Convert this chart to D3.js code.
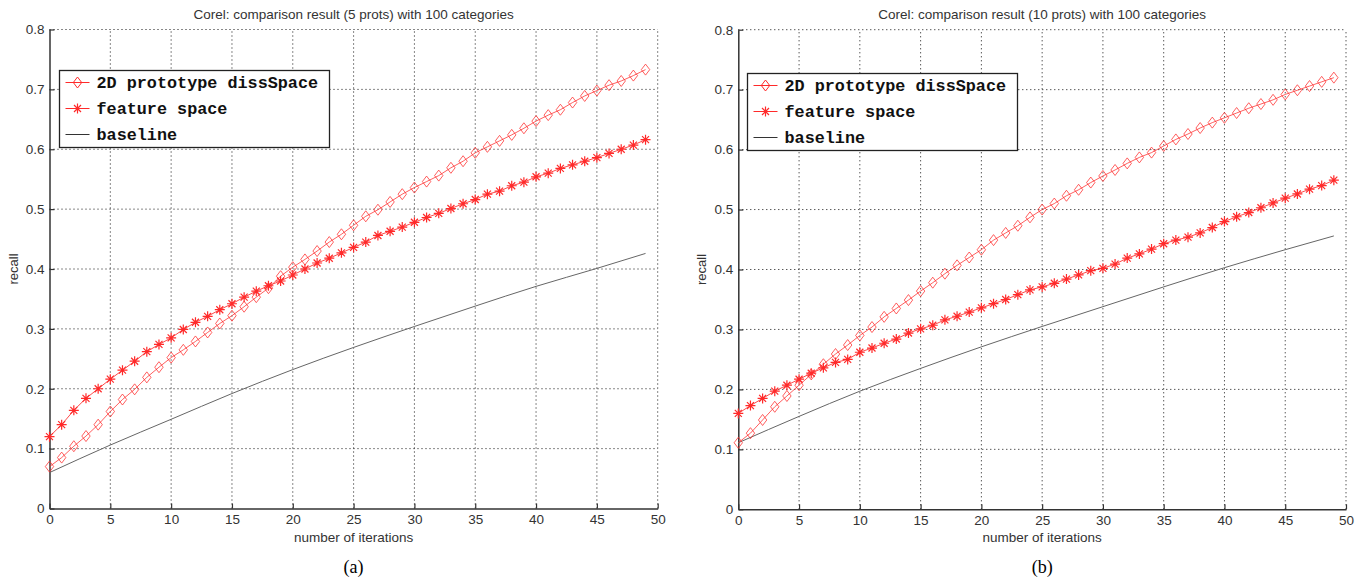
<!DOCTYPE html>
<html>
<head>
<meta charset="utf-8">
<script src="https://cdn.jsdelivr.net/npm/d3@7"></script>
<style>
body { margin: 0; background: #fff; }
svg { display: block; }
</style>
</head>
<body>
<script>
// iterations on the x axis
var iterations = [0,1,2,3,4,5,6,7,8,9,10,11,12,13,14,15,16,17,18,19,20,21,22,23,24,
	25,26,27,28,29,30,31,32,33,34,35,36,37,38,39,40,41,42,43,44,45,46,47,48,49];

// (a) 5 prototypes
var diss5 = [0.070,0.085,0.104,0.121,0.140,0.162,0.182,0.199,0.219,0.236,0.252,0.265,0.279,0.294,0.309,0.322,0.337,0.353,0.368,0.388,
	0.403,0.416,0.430,0.445,0.458,0.473,0.488,0.499,0.512,0.525,0.536,0.546,0.556,0.569,0.580,0.594,0.604,0.614,0.624,0.635,
	0.647,0.657,0.666,0.678,0.689,0.698,0.707,0.714,0.723,0.733];
var feat5 = [0.120,0.140,0.164,0.184,0.200,0.216,0.231,0.246,0.262,0.274,0.285,0.299,0.311,0.321,0.332,0.342,0.353,0.363,0.372,0.380,
	0.390,0.400,0.410,0.418,0.427,0.436,0.445,0.456,0.463,0.470,0.478,0.486,0.493,0.501,0.509,0.516,0.525,0.530,0.539,0.545,
	0.554,0.560,0.568,0.574,0.580,0.586,0.593,0.600,0.607,0.616];
var baseIters = [0,5,10,15,20,25,30,35,40,45,49];
var base5 = [0.060,0.106,0.149,0.192,0.232,0.269,0.304,0.338,0.371,0.401,0.426];

// (b) 10 prototypes
var diss10 = [0.111,0.127,0.149,0.171,0.189,0.207,0.225,0.242,0.259,0.274,0.290,0.304,0.321,0.335,0.349,0.364,0.378,0.393,0.407,0.420,
	0.433,0.449,0.461,0.473,0.487,0.500,0.510,0.523,0.533,0.545,0.556,0.566,0.577,0.587,0.595,0.606,0.617,0.626,0.636,0.645,
	0.653,0.661,0.669,0.676,0.683,0.692,0.699,0.706,0.713,0.720];
var feat10 = [0.160,0.173,0.185,0.197,0.207,0.217,0.227,0.236,0.245,0.250,0.262,0.269,0.277,0.284,0.294,0.301,0.307,0.316,0.322,0.329,
	0.336,0.343,0.350,0.358,0.366,0.371,0.377,0.384,0.391,0.398,0.402,0.409,0.419,0.426,0.434,0.443,0.449,0.454,0.461,0.470,
	0.480,0.488,0.495,0.503,0.511,0.519,0.526,0.534,0.540,0.549];
var base10 = [0.111,0.155,0.197,0.235,0.271,0.305,0.338,0.371,0.403,0.433,0.456];

// axis ticks and labels
var xTicks = [0,5,10,15,20,25,30,35,40,45,50];
var yTicks = [0,0.1,0.2,0.3,0.4,0.5,0.6,0.7,0.8];
var legendLabels = ["2D prototype dissSpace", "feature space", "baseline"];

var red = "#ff2a2a";
var sans = "Arial, 'Liberation Sans', sans-serif";

var svg = d3.select("body").append("svg")
	.attr("width", 1366)
	.attr("height", 582);

// marker shapes
var diamondPath = "M0,-5.5L4.2,0L0,5.5L-4.2,0Z";
var starPath = "M0,-5V5M-5,0H5M-3.5,-3.5L3.5,3.5M-3.5,3.5L3.5,-3.5";

drawPanel({left:49.5, right:657.7, top:29.5, bottom:508.5,
	title:"Corel: comparison result (5 prots) with 100 categories", tag:"(a)",
	diss:diss5, feat:feat5, base:base5, lx:59.5, ly:70.5});
drawPanel({left:738.3, right:1346, top:29.7, bottom:509.3,
	title:"Corel: comparison result (10 prots) with 100 categories", tag:"(b)",
	diss:diss10, feat:feat10, base:base10, lx:747.5, ly:73.5});

// Draws one panel of the figure
function drawPanel(p){
	var x = d3.scaleLinear().domain([0, 50]).range([p.left, p.right]);
	var y = d3.scaleLinear().domain([0, 0.8]).range([p.bottom, p.top]);
	var g = svg.append("g");
	var mid = (p.left + p.right) / 2;

	// dotted grid
	g.selectAll("line.gx")
		.data(xTicks.slice(1))
		.enter().append("line")
		.attr("x1", function(d) {return x(d);})
		.attr("x2", function(d) {return x(d);})
		.attr("y1", p.bottom)
		.attr("y2", p.top)
		.attr("stroke", "#111")
		.attr("stroke-width", 1)
		.attr("stroke-dasharray", "1,3");
	g.selectAll("line.gy")
		.data(yTicks.slice(1))
		.enter().append("line")
		.attr("y1", function(d) {return y(d);})
		.attr("y2", function(d) {return y(d);})
		.attr("x1", p.left)
		.attr("x2", p.right)
		.attr("stroke", "#111")
		.attr("stroke-width", 1)
		.attr("stroke-dasharray", "1,3");

	// axes
	var xAxis = g.append("g")
		.attr("transform", "translate(0," + p.bottom + ")")
		.call(d3.axisBottom(x).tickValues(xTicks).tickSize(-5).tickSizeOuter(0).tickPadding(6));
	var yAxis = g.append("g")
		.attr("transform", "translate(" + p.left + ",0)")
		.call(d3.axisLeft(y).tickValues(yTicks).tickSize(-5).tickSizeOuter(0).tickPadding(5)
			.tickFormat(function(d) {return d === 0 ? "0" : d3.format(".1f")(d);}));
	[xAxis, yAxis].forEach(function(a){
		a.select(".domain").attr("stroke", "#333").attr("stroke-width", 1.5);
		a.selectAll(".tick line").attr("stroke", "#333").attr("stroke-width", 1.2);
		a.selectAll("text")
			.attr("fill", "#333")
			.style("font-family", sans)
			.style("font-size", "13.5px");
	});

	// titles
	g.append("text")
		.attr("x", mid).attr("y", 18.5)
		.attr("text-anchor", "middle")
		.attr("fill", "#333")
		.style("font-family", sans)
		.style("font-size", "13.5px")
		.text(p.title);
	g.append("text")
		.attr("x", mid).attr("y", 541.5)
		.attr("text-anchor", "middle")
		.attr("fill", "#333")
		.style("font-family", sans)
		.style("font-size", "13.5px")
		.text("number of iterations");
	g.append("text")
		.attr("transform", "translate(" + (p.left - 32) + "," + ((p.top + p.bottom) / 2) + ") rotate(-90)")
		.attr("text-anchor", "middle")
		.attr("fill", "#333")
		.style("font-family", sans)
		.style("font-size", "13px")
		.text("recall");
	g.append("text")
		.attr("x", mid).attr("y", 573)
		.attr("text-anchor", "middle")
		.attr("fill", "#000")
		.style("font-family", "'Liberation Serif', 'Times New Roman', serif")
		.style("font-size", "18px")
		.text(p.tag);

	// series
	var line = d3.line()
		.x(function(d) {return x(d[0]);})
		.y(function(d) {return y(d[1]);});
	var baseLine = d3.line()
		.x(function(d) {return x(d[0]);})
		.y(function(d) {return y(d[1]);})
		.curve(d3.curveMonotoneX);

	var basePts = d3.zip(baseIters, p.base);
	var dissPts = d3.zip(iterations, p.diss);
	var featPts = d3.zip(iterations, p.feat);

	g.append("path")
		.attr("d", baseLine(basePts))
		.attr("fill", "none")
		.attr("stroke", "#666")
		.attr("stroke-width", 1);

	g.append("path")
		.attr("d", line(featPts))
		.attr("fill", "none")
		.attr("stroke", red)
		.attr("stroke-width", 1)
		.attr("stroke-opacity", 0.85);
	g.selectAll("path.star")
		.data(featPts)
		.enter().append("path")
		.attr("transform", function(d) {return "translate(" + x(d[0]) + "," + y(d[1]) + ")";})
		.attr("d", starPath)
		.attr("fill", "none")
		.attr("stroke", red)
		.attr("stroke-width", 1.2);

	g.append("path")
		.attr("d", line(dissPts))
		.attr("fill", "none")
		.attr("stroke", red)
		.attr("stroke-width", 1)
		.attr("stroke-opacity", 0.75);
	g.selectAll("path.diamond")
		.data(dissPts)
		.enter().append("path")
		.attr("transform", function(d) {return "translate(" + x(d[0]) + "," + y(d[1]) + ")";})
		.attr("d", diamondPath)
		.attr("fill", "none")
		.attr("stroke", red)
		.attr("stroke-width", 1)
		.attr("stroke-opacity", 0.75);

	// legend
	var lg = g.append("g").attr("transform", "translate(" + p.lx + "," + p.ly + ")");
	lg.append("rect")
		.attr("width", 270)
		.attr("height", 77)
		.attr("fill", "#fff")
		.attr("stroke", "#222")
		.attr("stroke-width", 1.3);
	var rows = lg.selectAll("g.row")
		.data(legendLabels)
		.enter().append("g")
		.attr("transform", function(d, i) {return "translate(0," + (12 + i * 26) + ")";});
	rows.append("line")
		.attr("x1", 6).attr("x2", 30)
		.attr("y1", 0).attr("y2", 0)
		.attr("stroke", function(d, i) {return i < 2 ? red : "#333";})
		.attr("stroke-width", 1);
	rows.filter(function(d, i) {return i < 2;})
		.append("path")
		.attr("transform", "translate(18,0)")
		.attr("d", function(d, i) {return i == 0 ? diamondPath : starPath;})
		.attr("fill", "none")
		.attr("stroke", red)
		.attr("stroke-width", function(d, i) {return i == 0 ? 1 : 1.2;});
	rows.append("text")
		.attr("x", 37)
		.attr("y", 5)
		.attr("fill", "#111")
		.style("font-family", "'Liberation Mono', 'Courier New', monospace")
		.style("font-weight", "bold")
		.style("font-size", "16.8px")
		.text(function(d) {return d;});
}
</script>
</body>
</html>
